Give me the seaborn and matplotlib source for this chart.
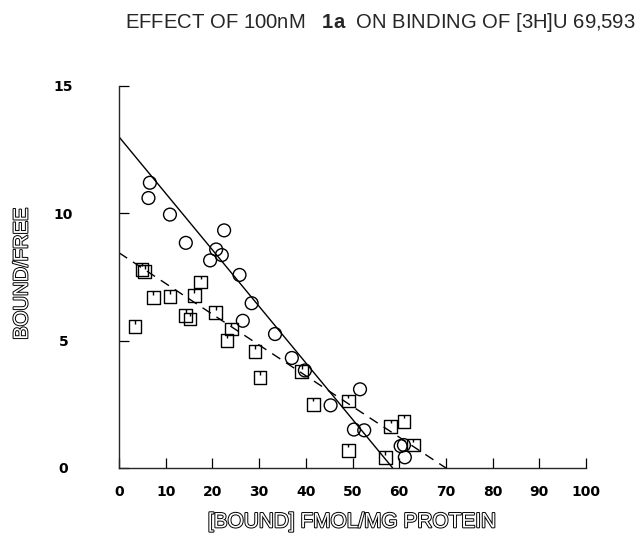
import numpy as np
import pandas as pd
import seaborn as sns
import matplotlib.pyplot as plt
import matplotlib.patheffects as pe
from matplotlib.path import Path

# control binding (circles)
ctrl_bound = [6.6, 6.3, 10.9, 22.5, 14.3, 20.8, 22.0, 19.5, 25.8, 28.4, 26.5, 33.4,
              37.0, 39.8, 51.6, 45.3, 50.3, 52.5, 60.3, 61.0, 61.2]
ctrl_ratio = [11.2, 10.6, 9.95, 9.33, 8.84, 8.58, 8.36, 8.15, 7.58, 6.47, 5.78, 5.26,
              4.32, 3.83, 3.09, 2.46, 1.51, 1.48, 0.86, 0.90, 0.42]
# + 100nM 1a (squares)
drug_bound = [4.9, 5.5, 17.5, 7.3, 10.9, 16.1, 14.3, 15.2, 20.7, 24.0, 23.1, 3.4,
              29.1, 30.2, 39.1, 41.6, 49.1, 58.2, 61.0, 49.1, 57.0, 63.0]
drug_ratio = [7.8, 7.7, 7.3, 6.69, 6.72, 6.76, 5.98, 5.85, 6.11, 5.46, 5.0, 5.55,
              4.57, 3.55, 3.79, 2.5, 2.63, 1.64, 1.84, 0.70, 0.40, 0.90]

# Scatchard fits: (y-intercept, x-intercept)
ctrl_fit = (13.0, 58.6)
drug_fit = (8.45, 70.0)

x_ticks = [0, 10, 20, 30, 40, 50, 60, 70, 80, 90, 100]
y_ticks = [0, 5, 10, 15]

sns.set_style("ticks")
plt.rcParams["font.family"] = ["Liberation Sans", "DejaVu Sans"]
plt.rcParams["mathtext.fontset"] = "custom"
plt.rcParams["mathtext.rm"] = "Liberation Sans"
plt.rcParams["mathtext.bf"] = "Liberation Sans:bold"

fig = plt.figure(figsize=(6.4, 5.34), dpi=100)
ax = fig.add_axes([0.186, 0.1236, 0.7297, 0.7154])

# square with a short stroke hanging from the top edge
sq = Path([(-1, -1), (1, -1), (1, 1), (-1, 1), (-1, -1), (0, 1), (0, 0.45)],
          [Path.MOVETO, Path.LINETO, Path.LINETO, Path.LINETO, Path.CLOSEPOLY,
           Path.MOVETO, Path.LINETO])

df_c = pd.DataFrame({"bound": ctrl_bound, "ratio": ctrl_ratio})
df_d = pd.DataFrame({"bound": drug_bound, "ratio": drug_ratio})

sns.scatterplot(data=df_c, x="bound", y="ratio", ax=ax, marker="o", s=85,
                facecolor="none", edgecolor="black", linewidth=1.0, zorder=3)
sns.scatterplot(data=df_d, x="bound", y="ratio", ax=ax, marker=sq, s=85,
                facecolor="none", edgecolor="black", linewidth=1.0, zorder=3)

for (b0, xint), ls in [(ctrl_fit, "-"), (drug_fit, (0, (7, 5)))]:
    fx = np.linspace(0, xint, 2)
    fy = b0 - b0 / xint * fx
    sns.lineplot(x=fx, y=fy, ax=ax, color="black", linewidth=1.0, linestyle=ls)

ax.set_xlim(0, 100)
ax.set_ylim(0, 15)
ax.set_xticks(x_ticks)
ax.set_yticks(y_ticks)
ax.tick_params(axis="both", direction="in", length=7, width=0.9, colors="black")
ax.tick_params(axis="x", pad=12)
ax.tick_params(axis="y", pad=40)
for lab in ax.get_xticklabels() + ax.get_yticklabels():
    lab.set_fontweight("bold")
    lab.set_fontfamily("DejaVu Sans")
    lab.set_fontsize(10)
for lab in ax.get_yticklabels():
    lab.set_horizontalalignment("center")
sns.despine(ax=ax)
for sp in ["left", "bottom"]:
    ax.spines[sp].set_linewidth(1.0)

hollow = [pe.withStroke(linewidth=1.4, foreground="black")]
ax.set_xlabel("[BOUND] FMOL/MG PROTEIN", fontsize=15, color="white",
              path_effects=hollow, va="center")
ax.xaxis.set_label_coords(0.5, -0.141)
ax.set_ylabel("BOUND/FREE", fontsize=14.5, color="white",
              path_effects=hollow, va="center")
ax.yaxis.set_label_coords(-0.208, 0.508)

fig.text(0.594, 0.957, r"EFFECT OF 100nM   $\mathbf{1a}$  ON BINDING OF [3H]U 69,593",
         ha="center", va="center", fontsize=14.6)

fig.savefig("out.png", dpi=100)
